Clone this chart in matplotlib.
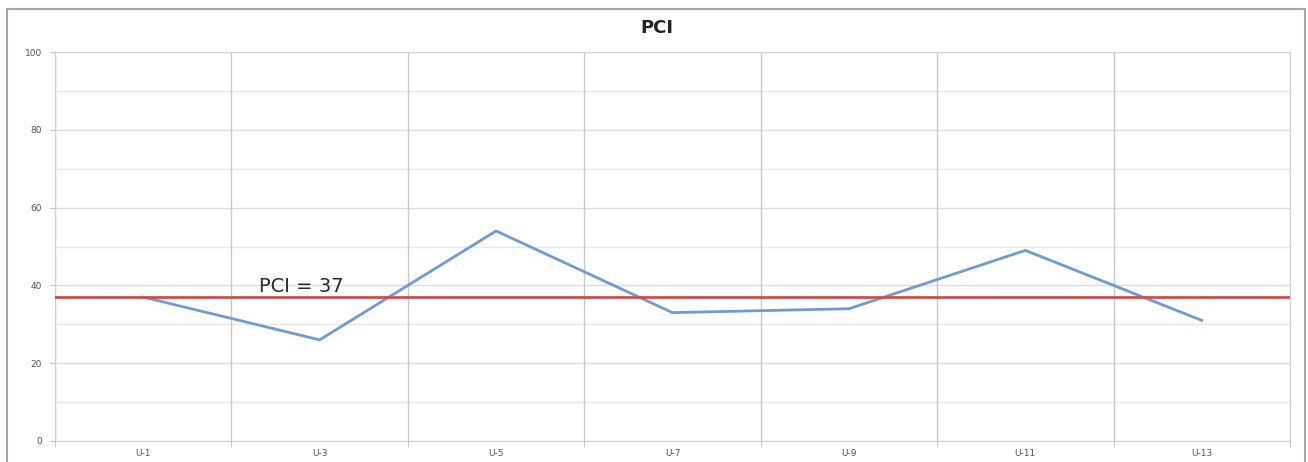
import matplotlib.pyplot as plt
import matplotlib.patches as mpatches
import numpy as np

# PCI per sample unit
units = ["U-1", "U-3", "U-5", "U-7", "U-9", "U-11", "U-13"]
pci = [37, 26, 54, 33, 34, 49, 31]
pci_avg = 37
avg_label = "PCI = 37"

plt.rcParams['font.family'] = ['DejaVu Sans']

fig = plt.figure(figsize=(13.08, 4.62), dpi=100)
ax = fig.add_axes([55 / 1308, 1 - 441 / 462, 1235 / 1308, 389 / 462])

# chart frame around everything
frame = mpatches.Rectangle((7 / 1308, -0.05), 1298 / 1308, 1 - 9 / 462 + 0.05,
                           transform=fig.transFigure, fill=False,
                           edgecolor="#a6a6a6", linewidth=1.5, zorder=0)
fig.patches.append(frame)

x = np.arange(len(units))
ax.plot(x, pci, color="#6f9bd1", linewidth=2, zorder=3)
ax.axhline(pci_avg, color="#c9504f", linewidth=2.0, zorder=4)
ax.text(0.655, pci_avg + 0.3, avg_label, fontsize=14, color="#2a2a2a",
        ha="left", va="bottom", zorder=5)

ax.set_xlim(-0.5, len(units) - 0.5)
ax.set_ylim(0, 100)

# category boundaries as vertical gridlines
ax.set_xticks(x)
ax.set_xticklabels(units, fontsize=6.5, color="#555555")
ax.set_xticks(np.arange(-0.5, len(units), 1), minor=True)
ax.tick_params(axis="x", which="major", length=0, pad=6)
ax.tick_params(axis="x", which="minor", length=4, color="#bfbfbf")
for b in np.arange(-0.5, len(units), 1):
    ax.axvline(b, color="#c8c8c8", linewidth=1, zorder=1)

ax.set_yticks(np.arange(0, 101, 20))
ax.set_yticks(np.arange(10, 100, 20), minor=True)
ax.set_yticklabels([str(v) for v in range(0, 101, 20)], fontsize=6.5, color="#555555")
ax.tick_params(axis="y", which="major", length=3.5, color="#bfbfbf", pad=6)
ax.tick_params(axis="y", which="minor", length=0)
ax.grid(axis="y", which="major", color="#dcdcdc", linewidth=1, zorder=1)
ax.grid(axis="y", which="minor", color="#e8e8e8", linewidth=1, zorder=1)
ax.set_axisbelow(True)

for side in ["top", "right", "left", "bottom"]:
    ax.spines[side].set_color("#d0d0d0")

fig.suptitle("PCI", x=657 / 1308, y=1 - 28 / 462, va="center",
             fontsize=13, fontweight="bold", color="#222222")

fig.savefig("out.png", dpi=100)
